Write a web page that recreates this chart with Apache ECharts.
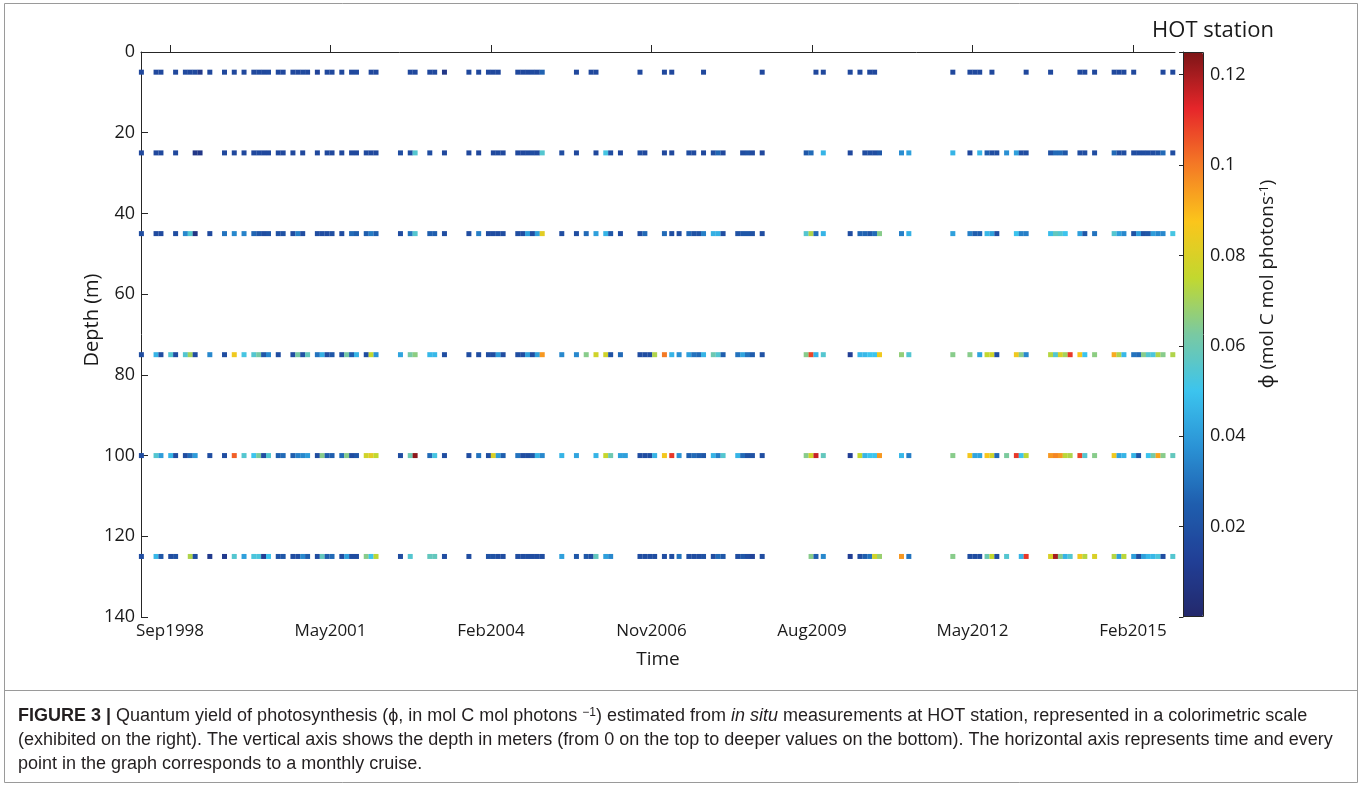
<!DOCTYPE html>
<html><head><meta charset="utf-8">
<script src="https://cdn.jsdelivr.net/npm/echarts@6/dist/echarts.min.js"></script>
<style>html,body{margin:0;padding:0;background:#fff}#c{width:1362px;height:787px}</style>
</head><body><div id="c"></div>
<script>
// x = cruise month index (months since Jan 1998), value = phi (mol C mol photons^-1)
const depths = [5, 25, 45, 75, 100, 125];
const tickLabels = ['Sep1998','May2001','Feb2004','Nov2006','Aug2009','May2012','Feb2015'];
const colorTicks = [0.02, 0.04, 0.06, 0.08, 0.1, 0.12];

const phi5 = [[2,.016],[5,.016],[6,.016],[9,.016],[11,.017],[12,.016],[13,.016],[14,.009],[16,.016],[19,.016],[21,.016],[23,.016],[25,.016],[26,.017],[27,.016],[28,.017],[30,.016],[31,.016],[33,.016],[34,.016],[35,.017],[36,.016],[38,.014],[40,.016],[41,.016],[43,.016],[45,.016],[46,.017],[49,.016],[50,.016],[57,.016],[58,.016],[61,.016],[62,.016],[64,.008],[69,.016],[71,.016],[73,.016],[74,.016],[75,.016],[79,.016],[80,.016],[81,.016],[82,.017],[83,.016],[84,.026],[91,.016],[94,.016],[95,.016],[104,.016],
[109,.016],[110.5,.016],[117,.016],[129,.016],[140,.016],[141.5,.016],[147,.016],[149,.016],[151,.016],[152,.016],[168,.016],[171.5,.016],[172.5,.016],[173.5,.016],[176,.016],[183,.016],[188,.016],[194,.016],[195,.016],[197,.016],[201,.016],[202,.016],[203,.016],[205,.016],[211,.016],[213,.016]];

const phi25 = [[2,.016],[5,.016],[6,.016],[9,.016],[13,.008],[14,.008],[19,.016],[21,.016],[23,.016],[25,.016],[26,.017],[27,.016],[28,.016],[30,.016],[31,.016],[33,.016],[35,.016],[38,.016],[40,.016],[41,.016],[43,.016],[45,.016],[46,.016],[48,.017],[49,.016],[50,.016],[55,.018],[57,.018],[58,.055],[61,.018],[64,.016],[69,.016],[71,.016],[74,.016],[75,.017],[76,.016],[79,.016],[80,.016],[81,.017],[82,.018],[83,.017],[84,.055],[88,.018],[91,.016],[95,.016],[97,.052],[98,.018],[100,.016],[104,.018],[105,.016],
[109,.016],[110.5,.016],[114,.018],[115,.017],[117,.016],[119,.018],[120,.027],[121,.016],[125,.018],[126,.02],[127,.017],[129,.016],[138,.022],[139,.028],[141.5,.046],[147,.016],[150,.018],[151,.019],[152,.018],[153,.022],[157.5,.036],[159,.041],[168,.046],[171.5,.016],[173.5,.046],[175,.024],[176,.018],[177,.018],[179,.037],[181,.041],[182,.018],[183,.018],[188,.02],[189,.028],[190,.028],[191,.022],[194,.018],[195,.018],[197,.018],[201,.028],[202,.018],[203,.018],[205,.018],[206,.018],[207,.018],[208,.018],[209,.018],[210,.02],[211,.028],[213,.018]];

const phi45 = [[2,.018],[5,.017],[6,.017],[9,.018],[11,.035],[12,.055],[13,.007],[16,.017],[19,.03],[21,.035],[23,.034],[25,.027],[26,.022],[27,.018],[28,.02],[30,.02],[31,.02],[33,.018],[34,.033],[35,.018],[38,.018],[39,.018],[40,.018],[41,.019],[43,.018],[45,.028],[46,.025],[48,.025],[49,.032],[50,.025],[55,.018],[57,.03],[58,.055],[61,.025],[62,.025],[64,.018],[69,.018],[71,.033],[73,.018],[74,.018],[75,.018],[76,.018],[79,.018],[80,.018],[81,.041],[82,.018],[83,.041],[84,.082],[88,.018],[91,.018],[93,.028],[95,.041],[97,.046],[98,.022],[100,.018],[104,.018],[105,.028],
[109,.028],[110.5,.018],[112,.018],[114,.027],[115,.02],[116,.02],[117,.033],[119,.045],[120,.045],[121,.018],[124,.02],[125,.022],[126,.022],[127,.02],[129,.018],[138,.055],[139,.072],[140,.028],[141.5,.046],[147,.018],[149,.026],[150,.026],[151,.022],[152,.028],[153,.065],[157.5,.033],[159,.045],[168,.041],[171.5,.033],[172.5,.025],[173.5,.025],[175,.047],[176,.041],[177,.018],[181,.05],[182,.033],[183,.033],[188,.048],[189,.058],[190,.055],[191,.05],[194,.041],[195,.022],[197,.03],[201,.055],[202,.041],[203,.035],[205,.02],[206,.04],[207,.02],[208,.022],[209,.04],[210,.035],[211,.035],[213,.052]];

const phi75 = [[2,.018],[5,.046],[6,.018],[8,.055],[9,.018],[11,.055],[12,.07],[13,.018],[16,.035],[19,.018],[21,.085],[23,.052],[25,.055],[26,.062],[27,.022],[28,.035],[30,.018],[33,.018],[34,.062],[35,.02],[36,.058],[38,.03],[39,.045],[40,.018],[41,.022],[43,.018],[44,.062],[45,.025],[46,.046],[48,.018],[49,.075],[50,.038],[55,.042],[57,.062],[58,.066],[61,.047],[62,.047],[64,.018],[69,.018],[71,.018],[73,.018],[74,.018],[75,.04],[76,.018],[79,.018],[80,.018],[81,.041],[82,.018],[83,.041],[84,.095],[88,.035],[91,.035],[93,.065],[95,.078],[97,.078],[98,.02],[100,.028],[104,.018],[105,.018],[106,.018],[107,.072],
[109,.1],[110.5,.046],[112,.037],[114,.041],[115,.03],[116,.028],[117,.046],[119,.06],[120,.055],[121,.025],[124,.03],[125,.042],[126,.03],[127,.024],[129,.02],[138,.065],[139,.108],[140,.046],[141.5,.055],[147,.012],[149,.047],[150,.047],[151,.05],[152,.05],[153,.085],[157.5,.067],[159,.055],[168,.065],[171.5,.065],[173.5,.042],[175,.075],[176,.078],[177,.018],[181,.085],[182,.065],[183,.035],[188,.073],[189,.055],[190,.08],[191,.07],[192,.11],[194,.087],[195,.05],[197,.066],[201,.092],[202,.072],[203,.047],[205,.03],[206,.028],[207,.065],[208,.055],[209,.053],[210,.072],[211,.065],[213,.072]];

const phi100 = [[2,.018],[5,.055],[6,.04],[8,.046],[9,.018],[11,.018],[12,.028],[13,.04],[16,.018],[19,.018],[21,.104],[23,.055],[25,.05],[26,.063],[27,.018],[28,.055],[30,.025],[31,.028],[33,.025],[34,.033],[35,.035],[36,.04],[38,.018],[39,.065],[40,.025],[41,.025],[43,.028],[44,.065],[45,.018],[46,.022],[48,.078],[49,.082],[50,.075],[55,.018],[57,.06],[58,.123],[61,.028],[62,.052],[64,.018],[69,.018],[71,.03],[73,.018],[74,.08],[75,.04],[76,.025],[79,.03],[80,.018],[81,.018],[82,.022],[83,.046],[84,.035],[88,.046],[91,.042],[95,.046],[97,.076],[98,.06],[100,.041],[101,.041],[104,.018],[105,.018],[106,.018],[107,.046],
[109,.086],[110.5,.11],[112,.038],[114,.025],[115,.028],[116,.025],[117,.022],[119,.046],[120,.033],[121,.055],[124,.046],[125,.028],[126,.02],[127,.02],[129,.018],[138,.065],[139,.078],[140,.116],[141.5,.058],[147,.012],[149,.075],[150,.046],[151,.05],[152,.05],[153,.095],[157.5,.047],[159,.033],[168,.065],[171.5,.086],[172.5,.042],[173.5,.042],[175,.087],[176,.078],[177,.028],[179,.063],[181,.11],[182,.05],[183,.074],[188,.095],[189,.098],[190,.095],[191,.074],[192,.072],[194,.108],[195,.055],[197,.065],[201,.085],[202,.042],[203,.046],[205,.046],[206,.022],[208,.05],[209,.062],[210,.093],[211,.065],[213,.058]];

const phi125 = [[2,.018],[5,.047],[6,.022],[8,.018],[9,.02],[12,.072],[13,.018],[16,.01],[19,.01],[21,.055],[23,.041],[25,.053],[26,.053],[27,.012],[28,.05],[30,.02],[31,.022],[33,.018],[34,.018],[35,.035],[36,.025],[38,.018],[39,.058],[40,.025],[41,.028],[43,.018],[44,.041],[45,.018],[46,.018],[48,.065],[49,.05],[50,.074],[55,.018],[57,.055],[61,.058],[62,.058],[64,.018],[69,.018],[73,.02],[74,.02],[75,.018],[76,.018],[79,.018],[80,.018],[81,.018],[82,.018],[83,.018],[84,.018],[88,.041],[91,.022],[93,.022],[94,.018],[95,.058],[97,.041],[98,.035],[104,.018],[105,.018],[106,.018],[107,.018],
[109,.018],[110.5,.018],[112,.03],[114,.018],[115,.018],[116,.018],[117,.02],[119,.018],[120,.028],[121,.022],[124,.018],[125,.022],[126,.018],[127,.014],[129,.018],[139,.065],[140,.025],[141.5,.035],[147,.012],[149,.018],[150,.025],[151,.03],[152,.078],[153,.068],[157.5,.095],[159,.03],[168,.065],[171.5,.018],[172.5,.018],[173.5,.018],[175,.06],[176,.075],[177,.018],[179,.055],[182,.046],[183,.11],[188,.08],[189,.12],[190,.065],[191,.046],[192,.055],[194,.085],[195,.073],[197,.08],[201,.073],[202,.041],[203,.074],[205,.041],[206,.018],[207,.041],[208,.047],[209,.047],[210,.053],[211,.018],[213,.055]];

const phiRows = [phi5, phi25, phi45, phi75, phi100, phi125];

// layout / style (not data)
const TICK0 = 7.85, TICKSTEP = 32.833;
const tickPos = tickLabels.map((_, i) => TICK0 + i * TICKSTEP);
const jet = ['#23286b','#213f96','#1f5eae','#2a92d5','#3cc4ee','#79c9a2','#c2d82f','#fbc51b','#f47a25','#e6262a','#7c1517'];
const FONT = '"Open Sans", "Noto Sans", sans-serif';
const CAP = '"Liberation Sans", Arial, sans-serif';
const axisCol = '#262626';
const txtCol = '#1a1a1a';
const CAPSIZE = 18;

const chart = echarts.init(document.getElementById('c'), null, {renderer: 'canvas'});
const series = phiRows.map((rows, i) => ({
  type: 'scatter', xAxisIndex: 0, yAxisIndex: 0,
  symbol: 'rect', symbolSize: [5, 5], clip: true,
  data: rows.map(p => [p[0], depths[i], p[1]]),
  itemStyle: {opacity: 1}, silent: true
}));

chart.setOption({
  animation: false,
  backgroundColor: '#fff',
  grid: [
    {left: 141, right: 187, top: 52, bottom: 170},
    {left: 1183, width: 20, top: 52, height: 565}
  ],
  xAxis: [{
    type: 'value', gridIndex: 0, min: 1.92, max: 213.45,
    axisLine: {lineStyle: {color: axisCol, width: 1}},
    axisTick: {inside: true, length: 7, customValues: tickPos, lineStyle: {color: axisCol}},
    axisLabel: {customValues: tickPos, color: txtCol, fontFamily: FONT, fontSize: 17, margin: 6,
      formatter: v => tickLabels[Math.round((v - TICK0) / TICKSTEP)] || ''},
    splitLine: {show: false},
    name: 'Time', nameLocation: 'middle', nameGap: 33,
    nameTextStyle: {color: txtCol, fontFamily: FONT, fontSize: 19}
  }, {
    type: 'value', gridIndex: 1, min: 0, max: 1, show: false
  }],
  yAxis: [{
    type: 'value', gridIndex: 0, inverse: true, min: 0, max: 140, interval: 20,
    axisLine: {show: true, lineStyle: {color: axisCol, width: 1}},
    axisTick: {show: true, inside: true, length: 7, lineStyle: {color: axisCol}},
    axisLabel: {color: txtCol, fontFamily: FONT, fontSize: 18, margin: 6},
    splitLine: {show: false}
  }, {
    type: 'value', gridIndex: 1, position: 'right', min: 0, max: 0.125, interval: 0.02,
    z: 10,
    axisLine: {show: true, lineStyle: {color: axisCol, width: 1}},
    axisTick: {show: true, inside: true, length: 4, lineStyle: {color: axisCol}},
    axisLabel: {color: txtCol, fontFamily: FONT, fontSize: 18, margin: 7,
      customValues: colorTicks, formatter: v => String(v)},
    splitLine: {show: false}
  }],
  visualMap: [{
    type: 'continuous', min: 0, max: 0.125, dimension: 2, seriesIndex: [0,1,2,3,4,5],
    left: 1183, top: 52, itemWidth: 20, itemHeight: 565, padding: 0,
    calculable: false, text: null, hoverLink: false,
    inRange: {color: jet}
  }],
  graphic: [
    {type: 'rect', shape: {x: 4.5, y: 3.5, width: 1353, height: 779}, style: {fill: 'none', stroke: '#9a9a9a', lineWidth: 1}, silent: true},
    {type: 'rect', shape: {x: 1183.5, y: 52.5, width: 20, height: 564}, style: {fill: 'none', stroke: axisCol, lineWidth: 1}, z: 20, silent: true},
    {type: 'text', x: 1213, y: 31, style: {text: 'HOT station', fontFamily: FONT, fontSize: 22, fill: txtCol, align: 'center', verticalAlign: 'middle'}},
    {type: 'text', x: 92, y: 320, rotation: Math.PI / 2, style: {text: 'Depth (m)', fontFamily: FONT, fontSize: 20, fill: txtCol, align: 'center', verticalAlign: 'middle'}},
    {type: 'text', x: 1268, y: 284, rotation: Math.PI / 2, style: {
      text: 'ϕ (mol C mol photons{s|-1})', fontFamily: FONT, fontSize: 19, fill: txtCol, align: 'center', verticalAlign: 'middle',
      rich: {s: {fontFamily: FONT, fontSize: 12, fill: txtCol, verticalAlign: 'top', lineHeight: 12}}}},
    {type: 'line', shape: {x1: 5, y1: 690.5, x2: 1357, y2: 690.5}, style: {stroke: '#9a9a9a', lineWidth: 1}},
    {type: 'text', x: 18, y: 716, style: {
      text: '{b|FIGURE 3 |} Quantum yield of photosynthesis (ϕ, in mol C mol photons {s|−1}) estimated from {i|in situ} measurements at HOT station, represented in a colorimetric scale',
      fontFamily: CAP, fontSize: CAPSIZE, fill: '#231f20', verticalAlign: 'middle',
      rich: {b: {fontFamily: CAP, fontSize: CAPSIZE, fontWeight: 'bold', fill: '#231f20'},
             i: {fontFamily: CAP, fontSize: CAPSIZE, fontStyle: 'italic', fill: '#231f20'},
             s: {fontFamily: CAP, fontSize: 12, fill: '#231f20', verticalAlign: 'top'}}}},
    {type: 'text', x: 18, y: 740, style: {text: '(exhibited on the right). The vertical axis shows the depth in meters (from 0 on the top to deeper values on the bottom). The horizontal axis represents time and every',
      fontFamily: CAP, fontSize: CAPSIZE, fill: '#231f20', verticalAlign: 'middle'}},
    {type: 'text', x: 18, y: 764, style: {text: 'point in the graph corresponds to a monthly cruise.',
      fontFamily: CAP, fontSize: CAPSIZE, fill: '#231f20', verticalAlign: 'middle'}}
  ],
  series: series
});
</script></body></html>
